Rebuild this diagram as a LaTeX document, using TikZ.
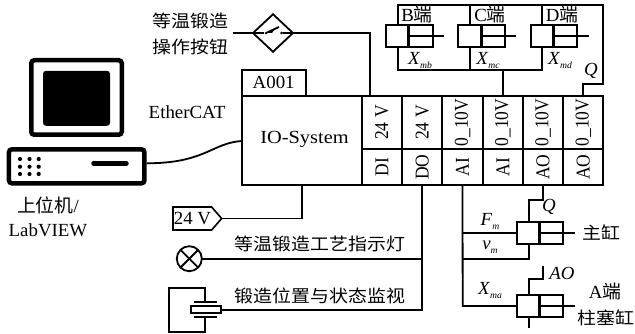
\documentclass[tikz,border=0pt]{standalone}
\usepackage{fontspec}
\setmainfont{Liberation Serif}
\newfontfamily\cjkfam{Noto Sans CJK SC}[Scale=1]
\usetikzlibrary{shapes.geometric}
\newcommand{\zh}[1]{{\cjkfam #1}}
\newcommand{\subx}[2]{\textit{#1}\raisebox{-4pt}{\fontsize{9.5}{9.5}\selectfont\textit{#2}}}
\tikzset{
  wire/.style={line width=1.8pt,line join=miter},
  boxcell/.style={draw,line width=2pt,inner sep=0pt,outer sep=0pt},
  celltext/.style={inner sep=0pt,rotate=90,yscale=1.12,font=\fontsize{17.5}{18}\selectfont},
  lab/.style={inner sep=0pt,outer sep=0pt,font=\fontsize{18.5}{19}\selectfont,xscale=1.02,transform shape},
  zhlab/.style={inner sep=0pt,outer sep=0pt,font=\fontsize{17.2}{18}\selectfont\cjkfam,xscale=1.1,transform shape},
  cylbody/.style={draw,line width=2pt,inner sep=0pt,outer sep=0pt,minimum width=46.7pt,minimum height=21.7pt},
  piston/.style={line width=3.2pt},
  thickframe/.style={line width=4.5pt,rounded corners=3pt},
}
\newcommand{\cylinder}[3]{% name, center x, center y
  \node[cylbody] (#1) at (#2,#3) {};
  \draw[piston] ([xshift=-0.5pt]#1.north) -- ([xshift=-0.5pt]#1.south);
  \coordinate (#1rod) at ([xshift=11.5pt]#1.east);
  \draw[wire] (#1.center) -- (#1rod);
}
\begin{document}
\begin{tikzpicture}[x=1pt,y=-1pt]
\useasboundingbox (0,0) rectangle (635,334);
% computer
\node[draw,thickframe,line width=4.5pt,minimum width=90.5pt,minimum height=74.5pt,inner sep=0pt,outer sep=2.2pt] (monitor) at (76.5,97.5) {};
\node[fill=black,rounded corners=3pt,minimum width=67pt,minimum height=55pt,inner sep=0pt] (screen) at (76.5,98.3) {};
\node[draw,thickframe,minimum width=135.5pt,minimum height=34pt,inner sep=0pt,outer sep=2.2pt] (base) at (76.7,166.3) {};
\foreach \i/\px in {1/20,2/29.5,3/38.7}
  \foreach \j/\py in {1/159,2/166.7,3/174}
    \node[circle,fill=black,minimum size=4.2pt,inner sep=0pt] (dot\i\j) at (\px,\py) {};
\coordinate (slotl) at (93.5,163.3);
\coordinate (slotr) at (126.5,163.3);
\draw[line width=4.5pt,line cap=round] (slotl) -- (slotr);
\node[lab] (upper) at (48,205) {\zh{上位机}/};
\node[lab] (labview) at (48,230.7) {LabVIEW};
\node[lab] (ethercat) at (187,111.7) {EtherCAT};
% IO system
\node[boxcell,minimum width=120pt,minimum height=89.3pt] (io) at (301.7,140.35) {};
\node[lab,xscale=1.08] (iotext) at (304.5,139.5) {IO-System};
\node[boxcell,minimum width=64pt,minimum height=25.7pt] (a001) at (273.7,82.85) {};
\node[lab] (a001t) at (273.7,82.5) {A001};
\foreach \n/\cx/\top/\bot in {1/381.9/24 V/DI,2/422.2/24 V/DO,3/462.5/0\_10V/AI,4/502.8/0\_10V/AI,5/543/0\_10V/AO,6/583.3/0\_10V/AO}{
  \node[boxcell,minimum width=40.3pt,minimum height=53.3pt,rotate=0] (t\n) at (\cx,122.35) {};
  \node[boxcell,minimum width=40.3pt,minimum height=36pt] (b\n) at (\cx,167) {};
  \node[celltext] (tt\n) at (\cx,122.5) {\top};
  \node[celltext] (bt\n) at (\cx,167) {\bot};
}
% host link
\draw[wire] (base.east |- slotl) .. controls (205,163.3) and (212,143) .. (io.west |- 0,141);
% button
\node[draw,diamond,aspect=1,line width=1.8pt,minimum width=40pt,minimum height=37.5pt,inner sep=0pt,outer sep=0pt] (btn) at (273,33) {};
\coordinate (btnfree) at (232.7,33);
\draw[wire] (btnfree) -- (btn.west);
\draw[wire] (btn.east) -| ([xshift=-11.9pt]t1.north);
\node[circle,fill=black,minimum size=3pt,inner sep=0pt] (c1) at (266,33) {};
\node[circle,fill=black,minimum size=3pt,inner sep=0pt] (c2) at (281.7,33) {};
\draw[wire] (btn.west) -- (c1);
\draw[wire] (c2) -- (btn.east);
\draw[wire] (c1) -- (279,27);
\fill (266,33) -- (276,27.5) -- (272,33) -- cycle;
\node[zhlab] (btntext1) at (190.5,20.7) {等温锻造};
\node[zhlab] (btntext2) at (190.5,46.7) {操作按钮};
% top cylinders
\cylinder{cb}{409.3}{35.8}
\cylinder{cc}{481.6}{35.8}
\cylinder{cd}{553.9}{35.8}
\coordinate (railb) at (397.7,4.7);
\coordinate (railend) at (603.3,4.7);
\coordinate (railc) at (470,4.7);
\coordinate (raild) at (542.3,4.7);
\coordinate (busb) at (397.7,70);
\coordinate (busc) at (470,70);
\coordinate (busd) at (542.3,70);
\draw[wire] (busb |- cb.south) -- (busb) -- (busd) -- (busd |- cd.south);
\draw[wire] (busc) -- (busc |- cc.south);
\draw[wire] (busb |- cb.north) -- (railb) -- (railend) -- (603.3,84.3) -| (t6.north);
\draw[wire] (railc) -- (railc |- cc.north);
\draw[wire] (raild) -- (raild |- cd.north);
\draw[wire] (t4.north) -- (t4.north |- busc);
\node[lab] (bend) at (417,15) {B\zh{端}};
\node[lab] (cend) at (490,15) {C\zh{端}};
\node[lab] (dend) at (562,15) {D\zh{端}};
\node[lab] (xmb) at (420,60) {\subx{X}{mb}};
\node[lab] (xmc) at (488,60) {\subx{X}{mc}};
\node[lab] (xmd) at (560,60) {\subx{X}{md}};
\node[lab] (qtop) at (591,71) {\textit{Q}};
% bottom cylinders
\cylinder{cm}{540}{232.8}
\cylinder{ca}{540}{305.8}
\coordinate (aibus) at (462.7,306);
\coordinate (vmcorner) at (462.7,258.7);
\coordinate (fmjoin) at (462.7,233);
\draw[wire] (b3.south) -- (aibus) -- (ca.west |- aibus);
\draw[wire] (fmjoin) -- (cm.west |- fmjoin);
\coordinate (vmup) at (528.7,258.7);
\draw[wire] (vmcorner) -- (vmup) -- (vmup |- cm.south);
\coordinate (qup) at (528.7,200);
\draw[wire] (b5.south) -- (b5.south |- qup) -- (qup) -- (qup |- cm.north);
\coordinate (aoup) at (528.7,279.3);
\coordinate (aotop) at (542.7,266);
\draw[wire] (aotop) -- (aotop |- aoup) -- (aoup) -- (aoup |- ca.north);
\coordinate (pdown) at (528.7,327.7);
\draw[wire] (pdown |- ca.south) -- (pdown);
\node[lab] (fm) at (490,221) {\subx{F}{m}};
\node[lab] (vm) at (490,247) {\subx{v}{m}};
\node[lab] (xma) at (490,290) {\subx{X}{ma}};
\node[lab] (qm) at (549,207) {\textit{Q}};
\node[lab] (ao) at (562,273) {\textit{AO}};
\node[zhlab] (zhugang) at (601,233) {主缸};
\node[lab] (aend) at (605,292) {A\zh{端}};
\node[zhlab] (zhusai) at (606,318) {柱塞缸};
% 24 V tag
\node[minimum width=48.7pt,minimum height=23pt,inner sep=0pt,outer sep=0pt] (tag) at (197.3,218.5) {};
\draw[line width=1.6pt,line join=miter] (tag.north west) -- ([xshift=-10pt]tag.north east) -- (tag.east) -- ([xshift=-10pt]tag.south east) -- (tag.south west) -- cycle;
\node[lab] (tagt) at (192.5,218.8) {24 V};
\draw[wire] (tag.east) -| (io.south);
% lamp
\node[draw,circle,line width=1.8pt,minimum size=25pt,inner sep=0pt,outer sep=0pt] (lamp) at (189.3,258.7) {};
\draw[wire] (lamp.45) -- (lamp.225);
\draw[wire] (lamp.135) -- (lamp.315);
\coordinate (dojoin) at (422.3,258.7);
\draw[wire] (lamp.east) -- (dojoin);
\node[zhlab] (lamptext) at (320,243.5) {等温锻造工艺指示灯};
% camera
\node[draw,line width=1.8pt,minimum width=30pt,minimum height=7.3pt,inner sep=0pt,outer sep=0pt] (crystal) at (205.7,309.6) {};
\coordinate (plateTl) at (194,301.7);
\coordinate (plateTr) at (216.7,301.7);
\coordinate (plateBl) at (194,317.3);
\coordinate (plateBr) at (216.7,317.3);
\draw[wire] (plateTl) -- (plateTr);
\draw[wire] (plateBl) -- (plateBr);
\coordinate (loopT) at (205,287.7);
\coordinate (loopB) at (205,331.7);
\coordinate (loopTl) at (169,287.7);
\coordinate (loopBl) at (169,331.7);
\draw[wire] (205,301.7) -- (loopT) -- (loopTl) -- (loopBl) -- (loopB) -- (205,317.3);
\draw[wire] (crystal.east) -- (b2.south |- crystal.east) -- (b2.south);
\node[zhlab] (camtext) at (320,295.5) {锻造位置与状态监视};
\end{tikzpicture}
\end{document}
